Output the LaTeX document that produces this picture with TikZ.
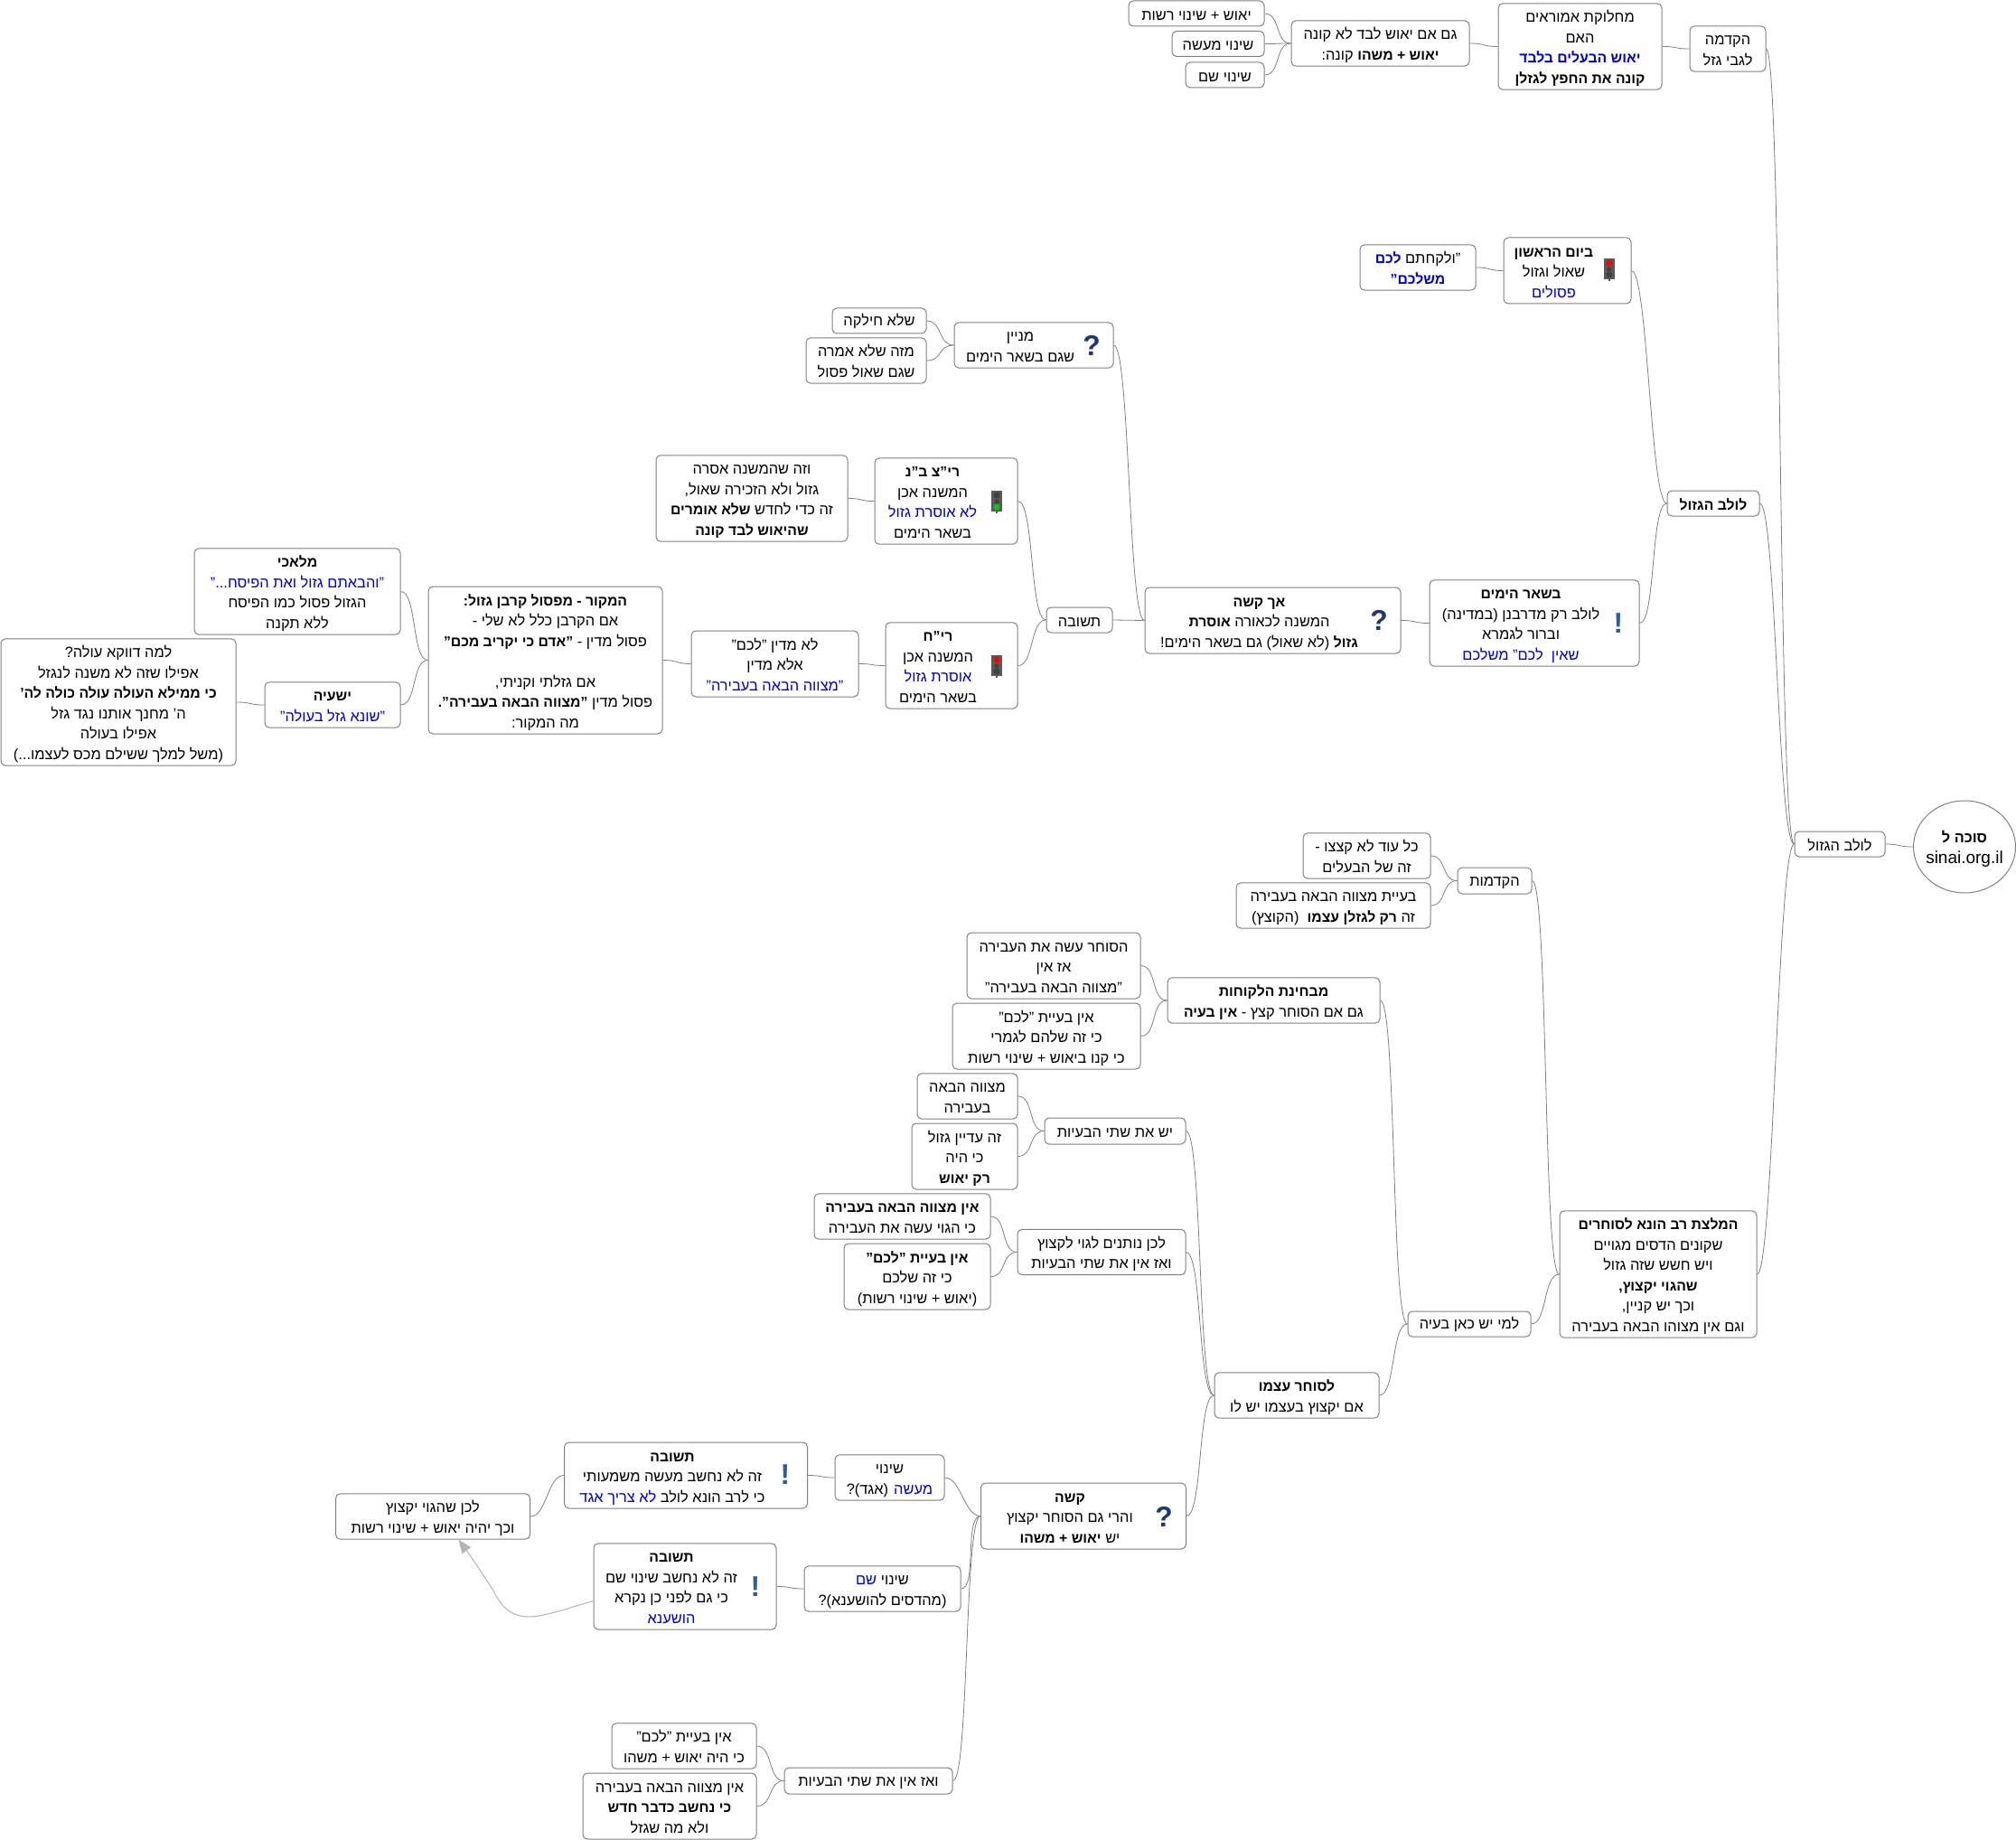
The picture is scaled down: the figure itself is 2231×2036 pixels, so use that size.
\documentclass[tikz,border=0pt]{standalone}
\usepackage{fontspec}
\usepackage{array}
\usetikzlibrary{arrows.meta,shapes.geometric}
\setmainfont[Script=Hebrew,BoldFeatures={Scale=0.96}]{Liberation Sans}
\TeXXeTstate=1
\definecolor{topicblue}{HTML}{0000D0}
\definecolor{edgegray}{HTML}{808080}
\definecolor{relgray}{HTML}{B4B4B4}
\definecolor{iconnavy}{HTML}{1F3778}
\definecolor{iconsteel}{HTML}{2F5F8F}
\newcommand{\heb}{\fontsize{16.4}{22.5}\selectfont}
\newcommand{\rtl}[1]{\beginR#1\endR}
\newcommand{\rtlblue}[1]{\textcolor{topicblue}{\beginR#1\endR}}
\newcommand{\stack}[1]{\begin{tabular}{@{}c@{}}\rule{0pt}{21pt}#1\end{tabular}}
\newcommand{\padded}[1]{\stack{#1}\hspace*{30pt}}
\newcommand{\signal}[4]{%
  \fill[black!65] (#1-6,#2-12) rectangle (#1+6,#2+11);
  \fill[black!65] (#1-1,#2+11) rectangle (#1+1,#2+13);
  \fill[#3] (#1,#2-7) circle (3.5);
  \fill[black!75] (#1,#2) circle (2.5);
  \fill[#4] (#1,#2+6) circle (3.5);
}

\begin{document}
\begin{tikzpicture}[x=1pt,y=-1pt,
    topic/.style 2 args={draw=edgegray, fill=white, rounded corners=5pt, line width=1pt,
      inner sep=0pt, font=\heb, minimum width=#1pt, minimum height=#2pt,
      execute at begin node={\rule{0pt}{15pt}}},
    hub/.style={ellipse, draw=edgegray, fill=white, line width=1pt,
      inner sep=0pt, font=\fontsize{17}{22.5}\selectfont, minimum width=113pt, minimum height=102pt},
    link/.style={draw=edgegray, line width=0.8pt, out=0, in=180, distance=18pt},
    relation/.style={draw=relgray, line width=1pt, -{Triangle[length=15pt,width=12pt,fill=relgray]}},
    asked/.style={text=iconnavy, inner sep=0pt, font=\fontsize{33}{33}\selectfont\bfseries},
    noted/.style={text=iconsteel, inner sep=0pt, font=\fontsize{33}{33}\selectfont\bfseries}]
   \useasboundingbox (0,0) rectangle (2231,2036);

   % root and first level
   \node[hub] (root) at (2174,937) {\makebox[60pt]{\stack{\rtl{\textbf{סוכה ל}} \\ {\fontsize{19}{22.5}\selectfont sinai.org.il}}}};
   \node[topic={100}{28}] (lulav) at (2036,934) {\rtl{לולב הגזול}};
   \node[topic={84}{50}] (intro) at (1912,54) {\stack{\rtl{הקדמה} \\ \rtl{לגבי גזל}}};
   \node[topic={102}{28}] (gazul) at (1896,557) {\rtl{\textbf{לולב הגזול}}};
   \node[topic={218}{140}] (advice) at (1835,1410) {\stack{\rtl{\textbf{המלצת רב הונא לסוחרים}} \\ \rtl{שקונים הדסים מגויים} \\ \rtl{ויש חשש שזה גזול} \\ \rtl{\textbf{שהגוי יקצוץ,}} \\ \rtl{וכך יש קניין,} \\ \rtl{וגם אין מצוהו הבאה בעבירה}}};

   % intro branch
   \node[topic={181}{95}] (dispute) at (1748.5,51.5) {\stack{\rtl{מחלוקת אמוראים} \\ \rtl{האם} \\ \rtlblue{\textbf{יאוש הבעלים בלבד}} \\ \rtl{\textbf{קונה את החפץ לגזלן}}}};
   \node[topic={197}{50}] (also) at (1527.5,48) {\stack{\rtl{גם אם יאוש לבד לא קונה} \\ \rtl{\textbf{יאוש + משהו} קונה:}}};
   \node[topic={150}{28}] (yeush) at (1324,15) {\rtl{יאוש + שינוי רשות}};
   \node[topic={102}{28}] (maase) at (1348,48.5) {\rtl{שינוי מעשה}};
   \node[topic={87}{28}] (shem) at (1355.5,83) {\rtl{שינוי שם}};

   % gazul branch
   \node[topic={141}{73}] (first) at (1734.5,299.5) {\padded{\rtl{\textbf{ביום הראשון}} \\ \rtl{שאול וגזול} \\ \rtlblue{פסולים}}};
   \node[topic={128}{50}] (take) at (1569,296) {\stack{\rtlblue{\textbf{לכם}} \rtl{"ולקחתם} \\ \rtlblue{\textbf{משלכם"}}}};
   \node[topic={232}{95}] (other) at (1698,689.5) {\padded{\rtl{\textbf{בשאר הימים}} \\ \rtl{לולב רק מדרבנן (במדינה)} \\ \rtl{וברור לגמרא} \\ \rtlblue{שאין\ \ לכם" משלכם}}};
   \node[topic={283}{73}] (hard) at (1408.5,686.5) {\padded{\rtl{\textbf{אך קשה}} \\ \rtl{המשנה לכאורה \textbf{אוסרת}} \\ \rtl{\textbf{גזול} (לא שאול) גם בשאר הימים!}}};
   \node[topic={176}{50}] (whence) at (1144,382) {\padded{\rtl{מניין} \\ \rtl{שגם בשאר הימים}}};
   \node[topic={104}{28}] (nosplit) at (973,355) {\rtl{שלא חילקה}};
   \node[topic={133}{50}] (notsaid) at (958.5,399) {\stack{\rtl{מזה שלא אמרה} \\ \rtl{שגם שאול פסול}}};
   \node[topic={73}{28}] (answer) at (1194.5,686) {\rtl{תשובה}};
   \node[topic={158}{95}] (ritz) at (1047,554.5) {\padded{\rtl{\textbf{רי"צ ב"נ}} \\ \rtl{המשנה אכן} \\ \rtlblue{לא אוסרת גזול} \\ \rtl{בשאר הימים}}};
   \node[topic={212}{95}] (why) at (832,551.5) {\stack{\rtl{וזה שהמשנה אסרה} \\ \rtl{גזול ולא הזכירה שאול,} \\ \rtl{זה כדי לחדש \textbf{שלא אומרים}} \\ \rtl{\textbf{שהיאוש לבד קונה}}}};
   \node[topic={146}{95}] (rih) at (1053,736.5) {\padded{\rtl{\textbf{רי"ח}} \\ \rtl{המשנה אכן} \\ \rtlblue{אוסרת גזול} \\ \rtl{בשאר הימים}}};
   \node[topic={185}{73}] (notlachem) at (857.5,734.5) {\stack{\rtl{לא מדין "לכם"} \\ \rtl{אלא מדין} \\ \rtlblue{"מצווה הבאה בעבירה"}}};
   \node[topic={259}{163}] (source) at (603.5,730.5) {\stack{\rtl{\textbf{המקור - מפסול קרבן גזול:}} \\ \rtl{אם הקרבן כלל לא שלי -} \\ \rtl{פסול מדין - \textbf{"אדם כי יקריב מכם"}} \\[22.5pt] \rtl{אם גזלתי וקניתי,} \\ \rtl{פסול מדין \textbf{"מצווה הבאה בעבירה".}} \\ \rtl{מה המקור:}}};
   \node[topic={228}{95}] (malachi) at (329,654.5) {\stack{\rtl{\textbf{מלאכי}} \\ \rtlblue{"והבאתם גזול ואת הפיסח..."} \\ \rtl{הגזול פסול כמו הפיסח} \\ \rtl{ללא תקנה}}};
   \node[topic={150}{50}] (yeshaya) at (368,780) {\stack{\rtl{\textbf{ישעיה}} \\ \rtlblue{"שונא גזל בעולה"}}};
   \node[topic={260}{140}] (whyola) at (131,777) {\stack{\rtl{למה דווקא עולה?} \\ \rtl{אפילו שזה לא משנה לנגזל} \\ \rtl{\textbf{כי ממילא העולה עולה כולה לה'}} \\ \rtl{ה' מחנך אותנו נגד גזל} \\ \rtl{אפילו בעולה} \\ \rtl{(משל למלך ששילם מכס לעצמו...)}}};

   % advice branch
   \node[topic={82}{29}] (prelim) at (1654,974.5) {\rtl{הקדמות}};
   \node[topic={141}{50}] (until) at (1512.5,947) {\stack{\rtl{כל עוד לא קצצו -} \\ \rtl{זה של הבעלים}}};
   \node[topic={215}{50}] (mitzva) at (1475.5,1002) {\stack{\rtl{בעיית מצווה הבאה בעבירה} \\ \rtl{זה \textbf{רק לגזלן עצמו}\ \ (הקוצץ)}}};
   \node[topic={136}{28}] (who) at (1626,1465) {\rtl{למי יש כאן בעיה}};
   \node[topic={235}{50}] (customers) at (1409.5,1107) {\stack{\rtl{\textbf{מבחינת הלקוחות}} \\ \rtl{גם אם הסוחר קצץ - \textbf{אין בעיה}}}};
   \node[topic={192}{73}] (sinner) at (1166,1068.5) {\stack{\rtl{הסוחר עשה את העבירה} \\ \rtl{אז אין} \\ \rtl{"מצווה הבאה בעבירה"}}};
   \node[topic={208}{73}] (bought) at (1158,1146.5) {\stack{\rtl{אין בעיית "לכם"} \\ \rtl{כי זה שלהם לגמרי} \\ \rtl{כי קנו ביאוש + שינוי רשות}}};
   \node[topic={182}{50}] (trader) at (1435,1544) {\stack{\rtl{\textbf{לסוחר עצמו}} \\ \rtl{אם יקצוץ בעצמו יש לו}}};
   \node[topic={156}{29}] (both) at (1234,1251.5) {\rtl{יש את שתי הבעיות}};
   \node[topic={111}{50}] (bothm) at (1070.5,1213) {\stack{\rtl{מצווה הבאה} \\ \rtl{בעבירה}}};
   \node[topic={117}{73}] (bothg) at (1067.5,1279.5) {\stack{\rtl{זה עדיין גזול} \\ \rtl{כי היה} \\ \rtl{\textbf{רק יאוש}}}};
   \node[topic={186}{50}] (gentile) at (1219,1385.5) {\stack{\rtl{לכן נותנים לגוי לקצוץ} \\ \rtl{ואז אין את שתי הבעיות}}};
   \node[topic={195}{50}] (gentm) at (998.5,1346) {\stack{\rtl{\textbf{אין מצווה הבאה בעבירה}} \\ \rtl{כי הגוי עשה את העבירה}}};
   \node[topic={162}{73}] (gentl) at (1015,1412.5) {\stack{\rtl{\textbf{אין בעיית "לכם"}} \\ \rtl{כי זה שלכם} \\ \rtl{(יאוש + שינוי רשות)}}};
   \node[topic={227}{73}] (ask) at (1199,1677.5) {\padded{\rtl{\textbf{קשה}} \\ \rtl{והרי גם הסוחר יקצוץ} \\ \rtl{יש \textbf{יאוש + משהו}}}};
   \node[topic={121}{50}] (act) at (984.5,1635) {\stack{\rtl{שינוי} \\ \rtl{(אגד)?} \rtlblue{מעשה}}};
   \node[topic={269}{73}] (reply) at (759,1632.5) {\padded{\rtl{\textbf{תשובה}} \\ \rtl{זה לא נחשב מעשה משמעותי} \\ \rtlblue{לא צריך אגד} \rtl{כי לרב הונא לולב}}};
   \node[topic={215}{50}] (cut) at (479,1678) {\stack{\rtl{לכן שהגוי יקצוץ} \\ \rtl{וכך יהיה יאוש + שינוי רשות}}};
   \node[topic={173}{50}] (rename) at (976.5,1758) {\stack{\rtlblue{שם} \rtl{שינוי} \\ \rtl{(מהדסים להושענא)?}}};
   \node[topic={202}{95}] (replyb) at (758,1755.5) {\padded{\rtl{\textbf{תשובה}} \\ \rtl{זה לא נחשב שינוי שם} \\ \rtl{כי גם לפני כן נקרא} \\ \rtlblue{הושענא}}};
   \node[topic={186}{29}] (none) at (961,1970.5) {\rtl{ואז אין את שתי הבעיות}};
   \node[topic={160}{50}] (nonel) at (757,1932) {\stack{\rtl{אין בעיית "לכם"} \\ \rtl{כי היה יאוש + משהו}}};
   \node[topic={192}{73}] (nonem) at (741,1998.5) {\stack{\rtl{אין מצווה הבאה בעבירה} \\ \rtl{\textbf{כי נחשב כדבר חדש}} \\ \rtl{ולא מה שגזל}}};

   % icons
   \node[asked] (qwhence) at (1208,382) {?};
   \node[asked] (qhard) at (1526,686) {?};
   \node[asked] (qask) at (1288,1678) {?};
   \node[noted] (nother) at (1791,690) {!};
   \node[noted] (nreply) at (869,1632) {!};
   \node[noted] (nreplyb) at (836,1756) {!};
   \signal{1781}{298}{red}{black!75}
   \signal{1103}{555}{black!75}{green!80!black}
   \signal{1103}{737}{red}{black!75}

   % connectors
   \draw[link] (lulav) to (root);
   \draw[link] (intro) to (lulav);
   \draw[link] (gazul) to (lulav);
   \draw[link] (advice) to (lulav);
   \draw[link] (dispute) to (intro);
   \draw[link] (also) to (dispute);
   \draw[link] (yeush) to (also);
   \draw[link] (maase) to (also);
   \draw[link] (shem) to (also);
   \draw[link] (first) to (gazul);
   \draw[link] (other) to (gazul);
   \draw[link] (take) to (first);
   \draw[link] (hard) to (other);
   \draw[link] (whence) to (hard);
   \draw[link] (answer) to (hard);
   \draw[link] (nosplit) to (whence);
   \draw[link] (notsaid) to (whence);
   \draw[link] (ritz) to (answer);
   \draw[link] (rih) to (answer);
   \draw[link] (why) to (ritz);
   \draw[link] (notlachem) to (rih);
   \draw[link] (source) to (notlachem);
   \draw[link] (malachi) to (source);
   \draw[link] (yeshaya) to (source);
   \draw[link] (whyola) to (yeshaya);
   \draw[link] (prelim) to (advice);
   \draw[link] (who) to (advice);
   \draw[link] (until) to (prelim);
   \draw[link] (mitzva) to (prelim);
   \draw[link] (customers) to (who);
   \draw[link] (trader) to (who);
   \draw[link] (sinner) to (customers);
   \draw[link] (bought) to (customers);
   \draw[link] (both) to (trader);
   \draw[link] (gentile) to (trader);
   \draw[link] (ask) to (trader);
   \draw[link] (bothm) to (both);
   \draw[link] (bothg) to (both);
   \draw[link] (gentm) to (gentile);
   \draw[link] (gentl) to (gentile);
   \draw[link] (act) to (ask);
   \draw[link] (rename) to (ask);
   \draw[link] (none) to (ask);
   \draw[link] (reply) to (act);
   \draw[link] (cut) to (reply);
   \draw[link] (replyb) to (rename);
   \draw[link] (nonel) to (none);
   \draw[link] (nonem) to (none);
   \draw[relation] (replyb.189) .. controls (600,1787) and (568,1806) .. (546,1760) .. controls (530,1735) and (518,1718) .. (cut.-42);
\end{tikzpicture}
\end{document}
